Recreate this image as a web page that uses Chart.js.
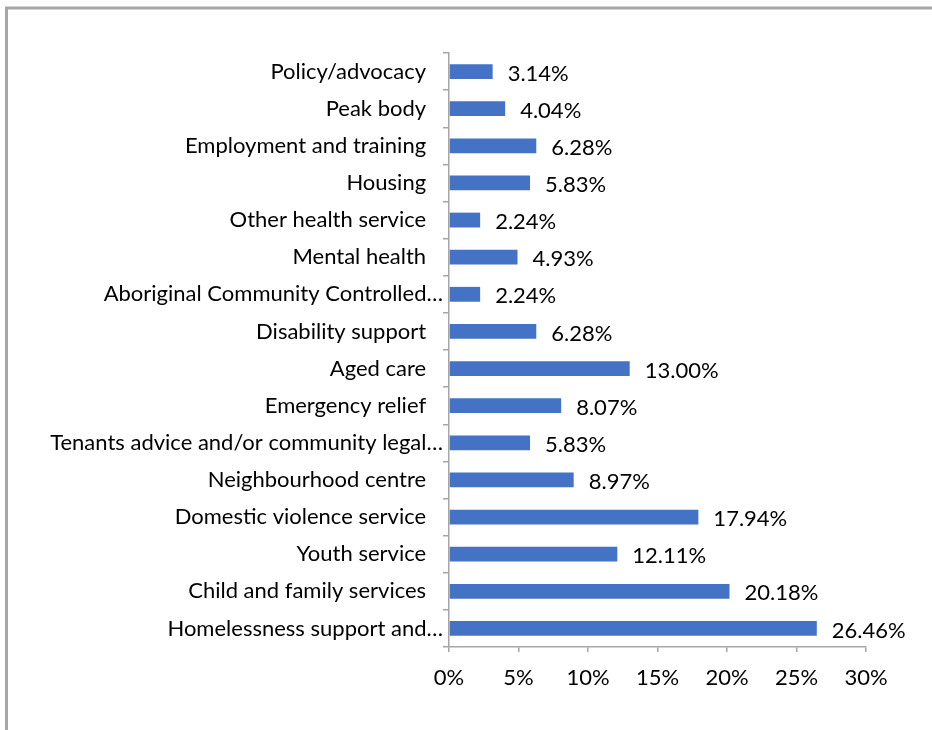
<!DOCTYPE html>
<html>
<head>
<meta charset="utf-8">
<script src="https://cdn.jsdelivr.net/npm/chart.js@4/dist/chart.umd.min.js"></script>
<style>
  html, body { margin: 0; padding: 0; background: #fff; }
  #wrap { position: relative; width: 932px; height: 730px; }
</style>
</head>
<body>
<div id="wrap"><canvas id="chart" width="932" height="730"></canvas></div>
<script>
// Service types, listed top to bottom
const categories = [
  'Policy/advocacy',
  'Peak body',
  'Employment and training',
  'Housing',
  'Other health service',
  'Mental health',
  'Aboriginal Community Controlled\u2026',
  'Disability support',
  'Aged care',
  'Emergency relief',
  'Tenants advice and/or community legal\u2026',
  'Neighbourhood centre',
  'Domestic violence service',
  'Youth service',
  'Child and family services',
  'Homelessness support and\u2026'
];

// Share of organisations (%)
const shares = [3.14, 4.04, 6.28, 5.83, 2.24, 4.93, 2.24, 6.28, 13.00, 8.07, 5.83, 8.97, 17.94, 12.11, 20.18, 26.46];

// Horizontal axis ticks (%)
const axisTicks = [0, 5, 10, 15, 20, 25, 30];

const FONT = 'Lato, "Noto Sans", sans-serif';
const FONT_SIZE = 22;
const AXIS_GREY = '#a6a6a6';

// Outer frame of the chart box
const framePlugin = {
  id: 'frame',
  beforeDraw(chart) {
    const ctx = chart.ctx;
    ctx.save();
    ctx.strokeStyle = AXIS_GREY;
    ctx.lineWidth = 3;
    ctx.beginPath();
    ctx.moveTo(6.5, 730);
    ctx.lineTo(6.5, 8);
    ctx.lineTo(932, 8);
    ctx.stroke();
    ctx.restore();
  }
};

// Percentage label to the right of each bar
const valueLabels = {
  id: 'valueLabels',
  afterDatasetsDraw(chart) {
    const ctx = chart.ctx;
    const meta = chart.getDatasetMeta(0);
    ctx.save();
    ctx.font = FONT_SIZE + 'px ' + FONT;
    ctx.fillStyle = '#000';
    ctx.textAlign = 'left';
    ctx.textBaseline = 'middle';
    meta.data.forEach((bar, i) => {
      ctx.fillText(shares[i].toFixed(2) + '%', bar.x + 15, bar.y + 2);
    });
    ctx.restore();
  }
};

new Chart(document.getElementById('chart'), {
  type: 'bar',
  data: {
    labels: categories,
    datasets: [{
      data: shares,
      backgroundColor: '#4472c4',
      borderWidth: 0,
      categoryPercentage: 1.0,
      barPercentage: 0.4
    }]
  },
  options: {
    indexAxis: 'y',
    responsive: false,
    animation: false,
    layout: { padding: { top: 53, right: 66, left: 0, bottom: 0 } },
    plugins: {
      legend: { display: false },
      tooltip: { enabled: false }
    },
    scales: {
      x: {
        min: 0,
        max: 30,
        afterBuildTicks(scale) {
          scale.ticks = axisTicks.map(v => ({ value: v }));
        },
        afterFit(scale) { scale.height = 83; },
        border: { color: AXIS_GREY, width: 1.5 },
        grid: { drawOnChartArea: false, color: AXIS_GREY, tickLength: 5, lineWidth: 1.5 },
        ticks: {
          padding: 13,
          color: '#000',
          font: { family: FONT, size: FONT_SIZE },
          callback: v => v + '%'
        }
      },
      y: {
        afterFit(scale) { scale.width = 449; },
        border: { color: AXIS_GREY, width: 1.5 },
        grid: { offset: true, drawOnChartArea: false, color: AXIS_GREY, tickLength: 6, lineWidth: 1.5 },
        ticks: {
          padding: 0,
          color: '#000',
          font: { family: FONT, size: FONT_SIZE },
          autoSkip: false,
          // full names sit a little further from the axis than shortened ones
          callback(value) {
            const name = this.getLabelForValue(value);
            return name.endsWith('\u2026') ? name : name + '   ';
          }
        }
      }
    }
  },
  plugins: [framePlugin, valueLabels]
});
</script>
</body>
</html>
